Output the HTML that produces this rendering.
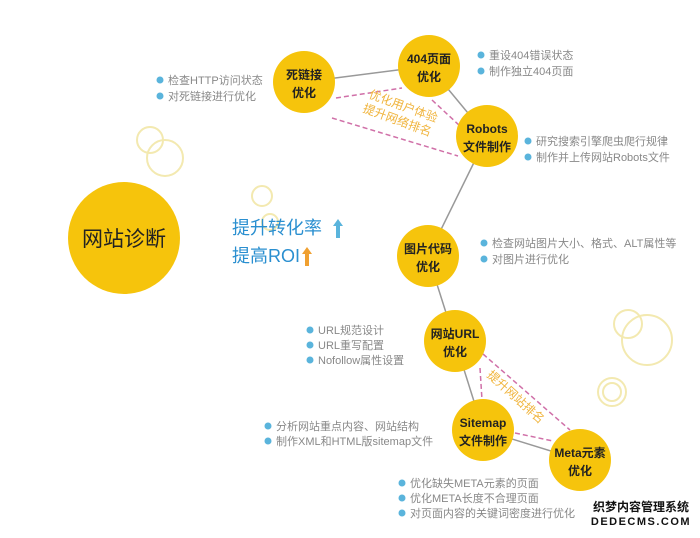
<!DOCTYPE html>
<html><head><meta charset="utf-8"><style>
body{margin:0;background:#fff;}
svg text{font-family:"Liberation Sans","Noto Sans CJK SC",sans-serif;}
</style></head><body>
<svg width="700" height="533" viewBox="0 0 700 533" xmlns="http://www.w3.org/2000/svg">
<g fill="none" stroke="#f3e9b0" stroke-width="2">
<circle cx="262" cy="196" r="10"/><circle cx="150" cy="140" r="13"/><circle cx="165" cy="158" r="18"/>
<circle cx="628" cy="324" r="14"/><circle cx="647" cy="340" r="25"/><circle cx="612" cy="392" r="14"/><circle cx="612" cy="392" r="9"/>
<circle cx="270" cy="222" r="8"/>
</g>
<g stroke="#999" stroke-width="1.5">
<line x1="304" y1="82" x2="429" y2="66"/><line x1="429" y1="66" x2="487" y2="136"/>
<line x1="487" y1="136" x2="428" y2="256"/><line x1="428" y1="256" x2="455" y2="341"/>
<line x1="455" y1="341" x2="483" y2="430"/><line x1="483" y1="430" x2="580" y2="460"/>
</g>
<g stroke="#d070a8" stroke-width="1.5" stroke-dasharray="5,3" fill="none">
<line x1="336" y1="98" x2="402" y2="88"/><line x1="332" y1="118" x2="458" y2="156"/>
<line x1="432" y1="100" x2="460" y2="126"/>
<line x1="480" y1="368" x2="482" y2="400"/><line x1="483" y1="354" x2="570" y2="430"/>
<line x1="515" y1="433" x2="553" y2="441"/>
</g>
<g fill="#f6c40c">
<circle cx="124" cy="238" r="56"/><circle cx="304" cy="82" r="31"/><circle cx="429" cy="66" r="31"/>
<circle cx="487" cy="136" r="31"/><circle cx="428" cy="256" r="31"/><circle cx="455" cy="341" r="31"/>
<circle cx="483" cy="430" r="31"/><circle cx="580" cy="460" r="31"/>
</g>
<g fill="#222" font-size="12" font-weight="bold" text-anchor="middle">
<text x="124" y="246" font-size="21" font-weight="normal">网站诊断</text>
<text x="304" y="79">死链接</text><text x="304" y="97">优化</text>
<text x="429" y="63">404页面</text><text x="429" y="81">优化</text>
<text x="487" y="133">Robots</text><text x="487" y="151">文件制作</text>
<text x="428" y="253">图片代码</text><text x="428" y="271">优化</text>
<text x="455" y="338">网站URL</text><text x="455" y="356">优化</text>
<text x="483" y="427">Sitemap</text><text x="483" y="445">文件制作</text>
<text x="580" y="457">Meta元素</text><text x="580" y="475">优化</text>
</g>
<g fill="#888" font-size="11">
<g fill="#5ab4dc"><circle cx="160" cy="80" r="3.5"/><circle cx="160" cy="96" r="3.5"/>
<circle cx="481" cy="55" r="3.5"/><circle cx="481" cy="71" r="3.5"/>
<circle cx="528" cy="141" r="3.5"/><circle cx="528" cy="157" r="3.5"/>
<circle cx="484" cy="243" r="3.5"/><circle cx="484" cy="259" r="3.5"/>
<circle cx="310" cy="330" r="3.5"/><circle cx="310" cy="345" r="3.5"/><circle cx="310" cy="360" r="3.5"/>
<circle cx="268" cy="426" r="3.5"/><circle cx="268" cy="441" r="3.5"/>
<circle cx="402" cy="483" r="3.5"/><circle cx="402" cy="498" r="3.5"/><circle cx="402" cy="513" r="3.5"/></g>
<text x="168" y="84">检查HTTP访问状态</text><text x="168" y="100">对死链接进行优化</text>
<text x="489" y="59">重设404错误状态</text><text x="489" y="75">制作独立404页面</text>
<text x="536" y="145">研究搜索引擎爬虫爬行规律</text><text x="536" y="161">制作并上传网站Robots文件</text>
<text x="492" y="247">检查网站图片大小、格式、ALT属性等</text><text x="492" y="263">对图片进行优化</text>
<text x="318" y="334">URL规范设计</text><text x="318" y="349">URL重写配置</text><text x="318" y="364">Nofollow属性设置</text>
<text x="276" y="430">分析网站重点内容、网站结构</text><text x="276" y="445">制作XML和HTML版sitemap文件</text>
<text x="410" y="487">优化缺失META元素的页面</text><text x="410" y="502">优化META长度不合理页面</text><text x="410" y="517">对页面内容的关键词密度进行优化</text>
</g>
<g fill="#f0b43c" font-size="12" text-anchor="middle">
<text transform="translate(402,110) rotate(20)">优化用户体验</text>
<text transform="translate(396,124) rotate(20)">提升网络排名</text>
<text transform="translate(513,400) rotate(42)">提升网站排名</text>
</g>
<text x="232" y="234" font-size="18" fill="#2a8fd0">提升转化率</text>
<path d="M336 238v-12h-3l5-7 5 7h-3v12z" fill="#5ab4dc"/>
<text x="232" y="262" font-size="18" fill="#2a8fd0">提高ROI</text>
<path d="M305 266v-12h-3l5-7 5 7h-3v12z" fill="#f0a030"/>
<rect x="588" y="498" width="106" height="30" fill="#fff"/>
<text x="641" y="511" font-size="12" font-weight="bold" text-anchor="middle" fill="#111">织梦内容管理系统</text>
<text x="641" y="525" font-size="11" font-weight="bold" text-anchor="middle" fill="#111" letter-spacing="1.5">DEDECMS.COM</text>
</svg>
</body></html>
